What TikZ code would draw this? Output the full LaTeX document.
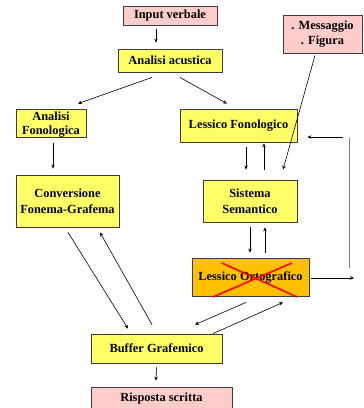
\documentclass[tikz,border=0pt]{standalone}
\usepackage{fontspec}
\setmainfont{Liberation Serif}
\usetikzlibrary{arrows.meta}
\definecolor{pinkbox}{RGB}{255,204,204}
\definecolor{yellowbox}{RGB}{255,255,102}
\definecolor{orangebox}{RGB}{255,192,0}
\definecolor{edgegray}{RGB}{60,60,60}
\begin{document}
\begin{tikzpicture}[x=1pt,y=-1pt,
  boxfont/.style={font=\fontsize{12.4}{15}\selectfont\bfseries},
  box/.style={draw=edgegray,line width=0.8pt,inner sep=0pt,align=center,boxfont},
  pinkb/.style={box,fill=pinkbox},
  yellowb/.style={box,fill=yellowbox},
  orangeb/.style={box,fill=orangebox},
  arr/.style={-{Stealth[length=4pt,width=3.5pt]},line width=0.6pt},
  cross/.style={red,line width=1.6pt}]
\useasboundingbox (0,0) rectangle (364,408);
\clip (0,0) rectangle (364,408);
\node[pinkb,minimum width=94pt,minimum height=19pt] (in) at (170,15.5) {Input verbale};
\node[yellowb,minimum width=104pt,minimum height=23pt] (aa) at (170,60.5) {Analisi\ acustica};
\node[yellowb,minimum width=70pt,minimum height=28pt,
  label={[boxfont,align=center,inner sep=0pt,yshift=-1.5pt,font=\fontsize{12.4}{14.5}\selectfont\bfseries]center:Analisi\\Fonologica}] (af) at (51,123) {};
\node[yellowb,minimum width=117pt,minimum height=33pt] (lf) at (238.5,125.5) {Lessico Fonologico};
\node[pinkb,minimum width=79pt,minimum height=38pt] (msg) at (322.5,34) {. Messaggio\\. Figura};
\node[yellowb,minimum width=103pt,minimum height=52pt,font=\fontsize{12.4}{16}\selectfont\bfseries] (cv) at (67.5,201) {Conversione\\Fonema-Grafema};
\node[yellowb,minimum width=94pt,minimum height=42pt,font=\fontsize{12.4}{16}\selectfont\bfseries] (ss) at (250,201) {Sistema\\Semantico};
\node[orangeb,minimum width=117pt,minimum height=38pt] (lo) at (250.5,277) {Lessico Ortografico};
\node[yellowb,minimum width=131pt,minimum height=29pt] (bg) at (156.5,348.5) {Buffer Grafemico};
\node[pinkb,minimum width=141pt,minimum height=23pt] (rs) at (161.5,398.5) {Risposta scritta};
% red cross
\draw[cross] ([xshift=-28.5pt,yshift=14pt]lo.center) -- ([xshift=46.5pt,yshift=-20pt]lo.center);
\draw[cross] ([xshift=41.5pt,yshift=14pt]lo.center) -- ([xshift=-37.5pt,yshift=-20pt]lo.center);
% connectors
\draw[arr] ([xshift=-14pt,yshift=-4pt]in.south) -- ([xshift=-14pt,yshift=6pt]aa.north);
\draw[arr] ([xshift=-18pt,yshift=-5pt]aa.south) -- ([xshift=27pt,yshift=5pt]af.north);
\draw[arr] ([xshift=10pt,yshift=-5pt]aa.south) -- ([xshift=-11.5pt,yshift=5pt]lf.north);
\draw[arr] ([xshift=-7.5pt,yshift=-2pt]msg.south) -- ([xshift=33pt,yshift=10pt]ss.north);
\draw[arr] ([xshift=2pt,yshift=-6pt]af.south) -- ([xshift=-14.5pt,yshift=6pt]cv.north);
\draw[arr] ([xshift=7.5pt,yshift=-5pt]lf.south) -- ([xshift=-4pt,yshift=10pt]ss.north);
\draw[arr] ([xshift=14pt,yshift=10pt]ss.north) -- ([xshift=25.5pt,yshift=-1pt]lf.south);
\draw[arr] ([xshift=0pt,yshift=-5pt]ss.south) -- ([xshift=-0.5pt,yshift=5pt]lo.north);
\draw[arr] ([xshift=14.5pt,yshift=5pt]lo.north) -- ([xshift=15pt,yshift=-5pt]ss.south);
\coordinate (fbout) at (354,278);
\draw[arr] ([xshift=2pt,yshift=-1pt]lo.east) -- (fbout);
\coordinate (vtop) at (349,138);
\coordinate (vbot) at (349,268);
\draw[gray,line width=1pt] (vbot) -- (vtop);
\coordinate (fbin) at (343,137);
\draw[arr] (fbin) -- ([xshift=10pt,yshift=-11.5pt]lf.east);
\draw[arr] ([xshift=0.5pt,yshift=-5pt]cv.south) -- ([xshift=-28.5pt,yshift=5pt]bg.north);
\draw[arr] ([xshift=-4.5pt,yshift=9pt]bg.north) -- ([xshift=32.5pt,yshift=-5pt]cv.south);
\draw[arr] ([xshift=-4.5pt,yshift=-6pt]lo.south) -- ([xshift=38.5pt,yshift=9pt]bg.north);
\draw[arr] ([xshift=56.5pt]bg.north) -- ([xshift=32.5pt,yshift=-6pt]lo.south);
\draw[arr] ([yshift=-4pt]bg.south) -- ([xshift=-5.5pt,yshift=6pt]rs.north);
\end{tikzpicture}
\end{document}
